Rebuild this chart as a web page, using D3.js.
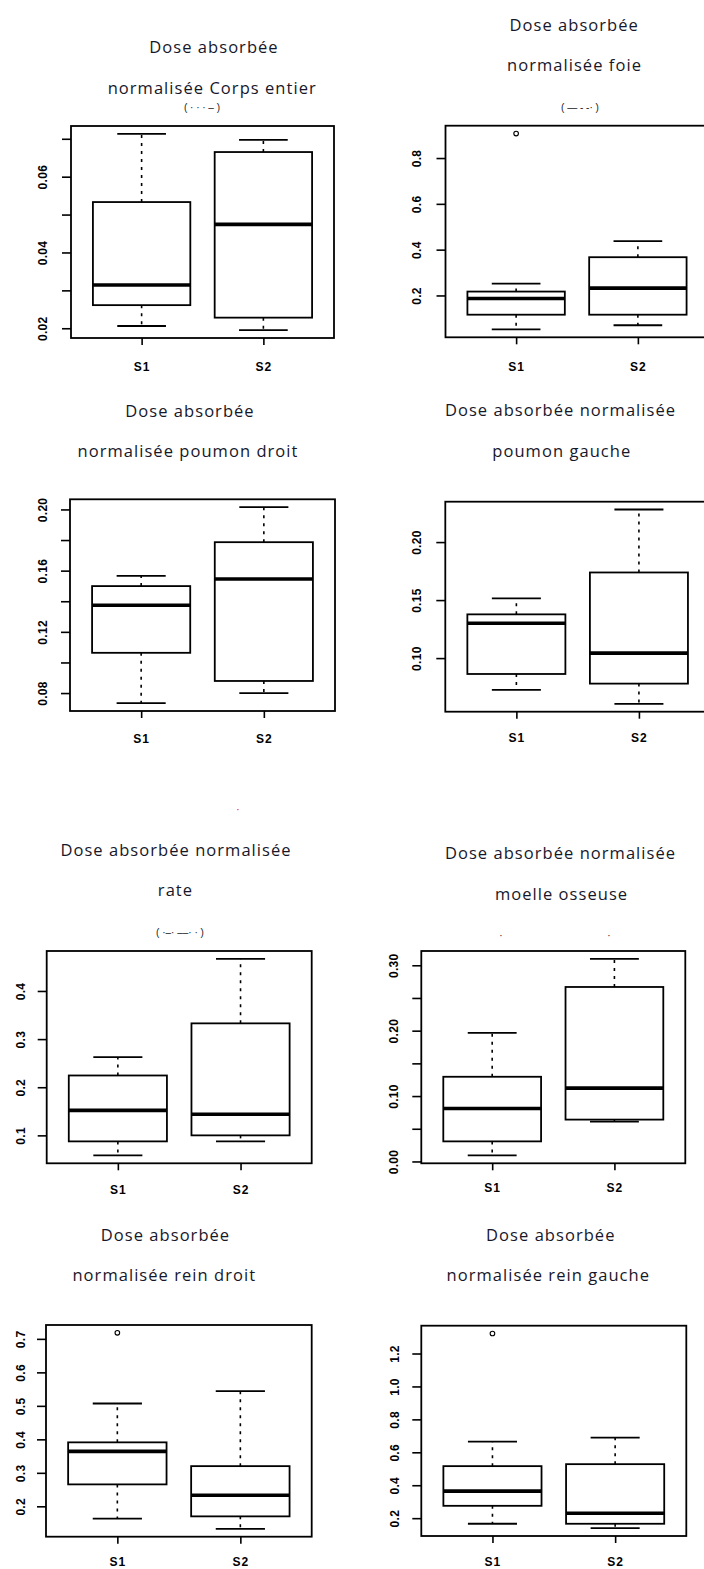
<!DOCTYPE html>
<html><head><meta charset="utf-8">
<script src="https://cdn.jsdelivr.net/npm/d3@7"></script>
<style>html,body{margin:0;padding:0;background:#fff;}svg{display:block;}</style>
</head><body>
<script>
// ---------- DATA ----------
const groups = ["S1", "S2"];
// each panel: [min, q1, median, q3, max] for S1 and S2
const titles = [
  ["Dose absorbée", "normalisée Corps entier"],
  ["Dose absorbée", "normalisée foie"],
  ["Dose absorbée", "normalisée poumon droit"],
  ["Dose absorbée normalisée", "poumon gauche"],
  ["Dose absorbée normalisée", "rate"],
  ["Dose absorbée normalisée", "moelle osseuse"],
  ["Dose absorbée", "normalisée rein droit"],
  ["Dose absorbée", "normalisée rein gauche"]
];
const corpsEntier = [[0.0206, 0.0261, 0.0314, 0.0533, 0.0713], [0.0195, 0.0228, 0.0474, 0.0665, 0.0697]];
const foie        = [[0.0515, 0.116, 0.187, 0.217, 0.252], [0.070, 0.116, 0.232, 0.367, 0.437]];
const poumonDroit = [[0.0734, 0.1063, 0.1374, 0.1499, 0.1566], [0.080, 0.0879, 0.1545, 0.1786, 0.2015]];
const poumonGauche= [[0.0726, 0.0863, 0.130, 0.1377, 0.1515], [0.0605, 0.078, 0.1043, 0.1738, 0.2281]];
const rate        = [[0.0583, 0.0875, 0.152, 0.2244, 0.2625], [0.0875, 0.100, 0.1438, 0.3327, 0.4667]];
const moelle      = [[0.0092, 0.0307, 0.081, 0.1295, 0.1966], [0.061, 0.064, 0.1121, 0.2668, 0.3098]];
const reinDroit   = [[0.163, 0.2655, 0.364, 0.391, 0.507], [0.1327, 0.170, 0.233, 0.320, 0.544]];
const reinGauche  = [[0.166, 0.275, 0.364, 0.516, 0.665], [0.139, 0.166, 0.230, 0.528, 0.689]];
const stats = [corpsEntier, foie, poumonDroit, poumonGauche, rate, moelle, reinDroit, reinGauche];
// outliers: [group index, value]
const outliers = [[], [[0, 0.907]], [], [], [], [], [[0, 0.718]], [[0, 1.3216]]];
// y-axis ticks and labels
const tickValues = [
  [0.02, 0.03, 0.04, 0.05, 0.06, 0.07],
  [0.2, 0.4, 0.6, 0.8],
  [0.08, 0.10, 0.12, 0.14, 0.16, 0.18, 0.20],
  [0.10, 0.15, 0.20],
  [0.1, 0.2, 0.3, 0.4],
  [0.00, 0.05, 0.10, 0.15, 0.20, 0.25, 0.30],
  [0.2, 0.3, 0.4, 0.5, 0.6, 0.7],
  [0.2, 0.4, 0.6, 0.8, 1.0, 1.2]
];
const tickLabels = [
  {"0.02": "0.02", "0.04": "0.04", "0.06": "0.06"},
  {"0.2": "0.2", "0.4": "0.4", "0.6": "0.6", "0.8": "0.8"},
  {"0.08": "0.08", "0.12": "0.12", "0.16": "0.16", "0.2": "0.20"},
  {"0.1": "0.10", "0.15": "0.15", "0.2": "0.20"},
  {"0.1": "0.1", "0.2": "0.2", "0.3": "0.3", "0.4": "0.4"},
  {"0": "0.00", "0.1": "0.10", "0.2": "0.20", "0.3": "0.30"},
  {"0.2": "0.2", "0.3": "0.3", "0.4": "0.4", "0.5": "0.5", "0.6": "0.6", "0.7": "0.7"},
  {"0.2": "0.2", "0.4": "0.4", "0.6": "0.6", "0.8": "0.8", "1": "1.0", "1.2": "1.2"}
];

// ---------- LAYOUT (positions only) ----------
const layout = [
  {L: 71,    R: 334,   T: 126,   B: 338,    lx: 43.3,  xly: 366.7,  tx: [213.5, 211.7], ty: [47.7, 88.3]},
  {L: 445.5, R: 708.5, T: 125.7, B: 337.3,  lx: 417,   xly: 366.7,  tx: [573.7, 574],   ty: [25, 65]},
  {L: 70,    R: 335,   T: 499.3, B: 711,    lx: 43.3,  xly: 738.3,  tx: [189.5, 187.5], ty: [411.7, 451.7]},
  {L: 445.3, R: 710,   T: 501.7, B: 711.7,  lx: 417,   xly: 738.3,  tx: [560, 561.3],   ty: [410, 451.7]},
  {L: 46.7,  R: 311.7, T: 951,   B: 1163.3, lx: 20.7,  xly: 1190,   tx: [175.5, 175],   ty: [850, 890]},
  {L: 421.3, R: 685.3, T: 951,   B: 1163.3, lx: 393.7, xly: 1188.3, tx: [560, 561],     ty: [853.3, 894.3]},
  {L: 46,    R: 311.7, T: 1325,  B: 1536.7, lx: 20.7,  xly: 1561.7, tx: [165, 163.8],   ty: [1235, 1275]},
  {L: 421.3, R: 686.3, T: 1325.7,B: 1536,   lx: 395.3, xly: 1561.7, tx: [550.3, 547.8], ty: [1235, 1275]}
];

const W = 704, H = 1569;
const svg = d3.select("body").append("svg").attr("width", W).attr("height", H);
svg.append("rect").attr("width", W).attr("height", H).attr("fill", "#fff");

const titleFont = "'Open Sans', 'Noto Sans', sans-serif";
const axisFont = "'Liberation Sans', Arial, sans-serif";

stats.forEach((st, i) => {
  const lo = layout[i];
  const g = svg.append("g");
  const all = st.flat().concat(outliers[i].map(o => o[1]));
  const mn = d3.min(all), mx = d3.max(all), ext = (mx - mn) * 0.04;
  const y = d3.scaleLinear().domain([mn - ext, mx + ext]).range([lo.B, lo.T]);
  const x = d3.scaleLinear().domain([0.42, 2.58]).range([lo.L, lo.R]);
  const bw = x(1.4) - x(1);   // half box width (0.4)
  const cw = x(1.2) - x(1);   // half cap width

  // titles
  titles[i].forEach((t, k) => {
    g.append("text").attr("x", lo.tx[k] + 0.5).attr("y", lo.ty[k]).attr("dy", "0.35em")
      .attr("text-anchor", "middle").attr("font-family", titleFont).attr("font-size", 16.5)
      .attr("letter-spacing", 1.05)
      .attr("fill", "#17172a").text(t);
  });

  // y axis
  const yAxis = d3.axisLeft(y).tickValues(tickValues[i]).tickSize(9).tickFormat(d => {
    const key = String(+d.toFixed(4));
    return tickLabels[i][key] || "";
  });
  const ya = g.append("g").attr("transform", `translate(${lo.L},0)`).call(yAxis);
  ya.select(".domain").remove();
  ya.selectAll(".tick line").attr("stroke", "#000").attr("stroke-width", 1.6);
  ya.selectAll(".tick text")
    .attr("x", null).attr("dy", null)
    .attr("transform", d => `translate(${lo.lx - lo.L},0) rotate(-90)`)
    .attr("text-anchor", "middle").attr("dominant-baseline", "central")
    .attr("font-family", axisFont).attr("font-weight", "bold").attr("font-size", 12)
    .attr("letter-spacing", 0.3).attr("fill", "#000");

  // x axis
  const xAxis = d3.axisBottom(x).tickValues([1, 2]).tickSize(7).tickFormat((d) => groups[d - 1]);
  const xa = g.append("g").attr("transform", `translate(0,${lo.B})`).call(xAxis);
  xa.select(".domain").remove();
  xa.selectAll(".tick line").attr("stroke", "#000").attr("stroke-width", 1.6);
  xa.selectAll(".tick text").attr("y", lo.xly - lo.B).attr("dy", "0.35em")
    .attr("font-family", axisFont).attr("font-weight", "bold").attr("font-size", 12)
    .attr("letter-spacing", 1).attr("fill", "#000");

  // boxes
  st.forEach((s, j) => {
    const cx = x(j + 1);
    const [wmin, q1, med, q3, wmax] = s;
    // whiskers (dashed)
    g.append("line").attr("x1", cx).attr("x2", cx).attr("y1", y(q3)).attr("y2", y(wmax))
      .attr("stroke", "#000").attr("stroke-width", 1.6).attr("stroke-dasharray", "3,5");
    g.append("line").attr("x1", cx).attr("x2", cx).attr("y1", y(q1)).attr("y2", y(wmin))
      .attr("stroke", "#000").attr("stroke-width", 1.6).attr("stroke-dasharray", "3,5");
    // caps
    [wmin, wmax].forEach(v => {
      g.append("line").attr("x1", cx - cw).attr("x2", cx + cw).attr("y1", y(v)).attr("y2", y(v))
        .attr("stroke", "#000").attr("stroke-width", 1.8);
    });
    // box
    g.append("rect").attr("x", cx - bw).attr("y", y(q3)).attr("width", 2 * bw).attr("height", y(q1) - y(q3))
      .attr("fill", "#fff").attr("stroke", "#000").attr("stroke-width", 1.8);
    // median
    g.append("line").attr("x1", cx - bw).attr("x2", cx + bw).attr("y1", y(med)).attr("y2", y(med))
      .attr("stroke", "#000").attr("stroke-width", 3.6);
  });

  // outliers
  outliers[i].forEach(o => {
    g.append("circle").attr("cx", x(o[0] + 1)).attr("cy", y(o[1])).attr("r", 2.3)
      .attr("fill", "none").attr("stroke", "#000").attr("stroke-width", 1.1);
  });

  // frame
  g.append("rect").attr("x", lo.L).attr("y", lo.T).attr("width", lo.R - lo.L).attr("height", lo.B - lo.T)
    .attr("fill", "none").attr("stroke", "#000").attr("stroke-width", 1.8);
});

// small leftover marks visible in the picture
const marks = [
  {x: 202, y: 107, t: "( · · · ‒ )", c: "#222"},
  {x: 580, y: 107, t: "( — - -· )", c: "#222"},
  {x: 180, y: 932, t: "( ·‒· ‒‒· · )", c: "#222"},
  {x: 501, y: 935, t: "·", c: "#222"},
  {x: 609, y: 935, t: "·", c: "#222"},
  {x: 238, y: 809, t: "·", c: "#d00"}
];
svg.selectAll("text.mark").data(marks).enter().append("text").attr("class", "mark")
  .attr("x", d => d.x).attr("y", d => d.y).attr("dy", "0.35em").attr("text-anchor", "middle")
  .attr("font-family", axisFont).attr("font-size", 10).attr("fill", d => d.c).text(d => d.t);
</script>
</body></html>
